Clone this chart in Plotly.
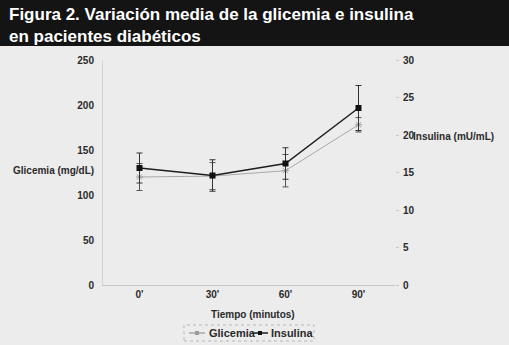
import plotly.graph_objects as go

categories = ["0'", "30'", "60'", "90'"]
glicemia = [120, 121, 127, 178]
glicemia_err = [15, 15, 18, 8]
insulina = [15.6, 14.6, 16.2, 23.6]
insulina_err = [2.0, 2.1, 2.1, 3.0]
left_ticks = [0, 50, 100, 150, 200, 250]
right_ticks = [0, 5, 10, 15, 20, 25, 30]
series_names = ["Glicemia", "Insulina"]

W, H = 509, 345
L, R, T, B = 103, 114, 60, 60
PW, PH = W - L - R, H - T - B

def px(x):
    return (x - L) / PW

def py(y):
    return (H - B - y) / PH

FONT = "Liberation Sans, Arial, sans-serif"
TXT = "#2a2a2a"
TICKF = dict(size=10, color=TXT, family=FONT, weight="bold")
GLI_LINE, GLI_MK = "#a8a8a8", "#9a9a9a"
INS_LINE, INS_MK = "#1e1e1e", "#111111"

fig = go.Figure()
fig.add_trace(go.Scatter(
    x=categories, y=glicemia, name=series_names[0], yaxis="y",
    mode="lines+markers", showlegend=False,
    line=dict(color=GLI_LINE, width=1),
    marker=dict(symbol="asterisk-open", size=6, color=GLI_MK, line=dict(color=GLI_MK, width=1)),
    error_y=dict(type="data", array=glicemia_err, color="#555555", thickness=1, width=3),
))
fig.add_trace(go.Scatter(
    x=categories, y=insulina, name=series_names[1], yaxis="y2",
    mode="lines+markers", showlegend=False,
    line=dict(color=INS_LINE, width=1.5),
    marker=dict(symbol="square", size=6, color=INS_MK),
    error_y=dict(type="data", array=insulina_err, color="#333333", thickness=1, width=3),
))

fig.update_layout(
    width=W, height=H,
    margin=dict(l=L, r=R, t=T, b=B, autoexpand=False),
    paper_bgcolor="#ececec", plot_bgcolor="#ececec",
    font=dict(family=FONT, size=10, color=TXT),
    showlegend=False,
    xaxis=dict(type="category", range=[-0.5, 3.5], showgrid=False, zeroline=False,
               showline=True, linecolor="#c8c8c8", linewidth=1, ticks="",
               tickfont=TICKF, automargin=False),
    yaxis=dict(range=[0, 250], tickvals=left_ticks, showgrid=False, zeroline=False,
               showline=True, linecolor="#d4d4d4", ticks="", ticklabelstandoff=6,
               tickfont=TICKF, automargin=False),
    yaxis2=dict(range=[0, 30], tickvals=right_ticks, overlaying="y", side="right",
                showgrid=False, zeroline=False, showline=False, ticks="outside",
                ticklen=3, tickcolor="#c8c8c8", ticklabelstandoff=2,
                tickfont=TICKF, automargin=False),
)

# dark title band
fig.add_shape(type="rect", xref="paper", yref="paper",
              x0=px(0), x1=px(W), y0=py(46), y1=py(0),
              fillcolor="#141414", line=dict(width=0), layer="below")

fig.add_annotation(text="Figura 2. Variación media de la glicemia e insulina<br>en pacientes diabéticos",
                   xref="paper", yref="paper", x=px(7), y=py(3), xanchor="left", yanchor="top",
                   align="left", showarrow=False,
                   font=dict(size=17, color="white", family=FONT, weight="bold"))

AXF = dict(size=10, color=TXT, family=FONT, weight="bold")
fig.add_annotation(text="Glicemia (mg/dL)", xref="paper", yref="paper",
                   x=px(96), y=py(170), xanchor="right", yanchor="middle", showarrow=False,
                   font=AXF)
fig.add_annotation(text="Insulina (mU/mL)", xref="paper", yref="paper",
                   x=px(411), y=py(136), xanchor="left", yanchor="middle", showarrow=False,
                   font=AXF)
fig.add_annotation(text="Tiempo (minutos)", xref="paper", yref="paper",
                   x=px(253), y=py(314), xanchor="center", yanchor="middle", showarrow=False,
                   font=AXF)

# compact legend (Excel-like)
LY = 333
fig.add_shape(type="rect", xref="paper", yref="paper",
              x0=px(184), x1=px(314), y0=py(341), y1=py(325),
              line=dict(color="#b8b8b8", width=1, dash="dot"), fillcolor="rgba(0,0,0,0)")
for (x0, name, lc, mc, lx) in [(189, series_names[0], GLI_LINE, GLI_MK, 207),
                              (252, series_names[1], INS_LINE, INS_MK, 269)]:
    fig.add_shape(type="line", xref="paper", yref="paper",
                  x0=px(x0), x1=px(x0 + 16), y0=py(LY), y1=py(LY),
                  line=dict(color=lc, width=1.5))
    fig.add_shape(type="rect", xref="paper", yref="paper",
                  x0=px(x0 + 6), x1=px(x0 + 10), y0=py(LY + 2), y1=py(LY - 2),
                  line=dict(width=0), fillcolor=mc)
    fig.add_annotation(text=name, xref="paper", yref="paper", x=px(lx), y=py(LY),
                       xanchor="left", yanchor="middle", showarrow=False,
                       font=dict(size=11, color=TXT, family=FONT, weight="bold"))

fig.write_html("out.html", config={"displayModeBar": False},
               post_script="document.body.style.margin='0';")
